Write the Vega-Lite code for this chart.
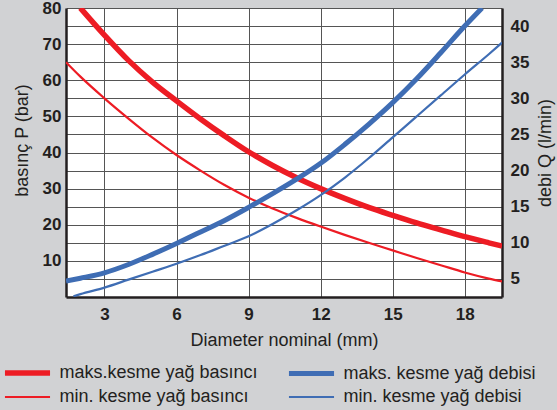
{
  "$schema": "https://vega.github.io/schema/vega-lite/v6.json",
  "width": 436,
  "height": 289,
  "autosize": {"type": "none"},
  "padding": {"left": 66, "top": 8, "right": 55, "bottom": 113},
  "background": "#d1d2d4",
  "config": {
    "view": {"fill": "white", "stroke": null},
    "font": "Liberation Sans",
    "axis": {"labelColor": "#231f20", "titleColor": "#231f20", "domainColor": "#231f20", "domainWidth": 2.5, "gridColor": "#555555", "gridWidth": 1, "gridOpacity": 1, "ticks": false, "labelFontSize": 17, "labelFontWeight": "bold", "titleFontSize": 18, "titleFontWeight": "normal"}
  },
  "data": {
    "values": [
      {"s": "maks.kesme yağ basıncı", "d": 2.0, "v": 80},
      {"s": "maks.kesme yağ basıncı", "d": 3, "v": 72.5},
      {"s": "maks.kesme yağ basıncı", "d": 4, "v": 65.5},
      {"s": "maks.kesme yağ basıncı", "d": 5, "v": 59.5},
      {"s": "maks.kesme yağ basıncı", "d": 6, "v": 54.3},
      {"s": "maks.kesme yağ basıncı", "d": 7, "v": 49.3},
      {"s": "maks.kesme yağ basıncı", "d": 8, "v": 44.6},
      {"s": "maks.kesme yağ basıncı", "d": 9, "v": 40.2},
      {"s": "maks.kesme yağ basıncı", "d": 10, "v": 36.4},
      {"s": "maks.kesme yağ basıncı", "d": 11, "v": 33.0},
      {"s": "maks.kesme yağ basıncı", "d": 12, "v": 30.0},
      {"s": "maks.kesme yağ basıncı", "d": 13, "v": 27.3},
      {"s": "maks.kesme yağ basıncı", "d": 14, "v": 24.8},
      {"s": "maks.kesme yağ basıncı", "d": 15, "v": 22.6},
      {"s": "maks.kesme yağ basıncı", "d": 16, "v": 20.5},
      {"s": "maks.kesme yağ basıncı", "d": 17, "v": 18.6},
      {"s": "maks.kesme yağ basıncı", "d": 18, "v": 16.7},
      {"s": "maks.kesme yağ basıncı", "d": 19, "v": 15.0},
      {"s": "maks.kesme yağ basıncı", "d": 19.55, "v": 14.1},
      {"s": "min. kesme yağ basıncı", "d": 1.4, "v": 65},
      {"s": "min. kesme yağ basıncı", "d": 2, "v": 61},
      {"s": "min. kesme yağ basıncı", "d": 3, "v": 55},
      {"s": "min. kesme yağ basıncı", "d": 4, "v": 49.4},
      {"s": "min. kesme yağ basıncı", "d": 5, "v": 44.1},
      {"s": "min. kesme yağ basıncı", "d": 6, "v": 39.3},
      {"s": "min. kesme yağ basıncı", "d": 7, "v": 35.0},
      {"s": "min. kesme yağ basıncı", "d": 8, "v": 31.0},
      {"s": "min. kesme yağ basıncı", "d": 9, "v": 27.5},
      {"s": "min. kesme yağ basıncı", "d": 10, "v": 24.5},
      {"s": "min. kesme yağ basıncı", "d": 11, "v": 21.9},
      {"s": "min. kesme yağ basıncı", "d": 12, "v": 19.5},
      {"s": "min. kesme yağ basıncı", "d": 13, "v": 17.2},
      {"s": "min. kesme yağ basıncı", "d": 14, "v": 15.0},
      {"s": "min. kesme yağ basıncı", "d": 15, "v": 12.9},
      {"s": "min. kesme yağ basıncı", "d": 16, "v": 10.8},
      {"s": "min. kesme yağ basıncı", "d": 17, "v": 8.8},
      {"s": "min. kesme yağ basıncı", "d": 18, "v": 6.8},
      {"s": "min. kesme yağ basıncı", "d": 19, "v": 5.1},
      {"s": "min. kesme yağ basıncı", "d": 19.55, "v": 4.3},
      {"s": "maks. kesme yağ debisi", "d": 1.4, "v": 4.7},
      {"s": "maks. kesme yağ debisi", "d": 2, "v": 5.1},
      {"s": "maks. kesme yağ debisi", "d": 3, "v": 5.85},
      {"s": "maks. kesme yağ debisi", "d": 4, "v": 7.0},
      {"s": "maks. kesme yağ debisi", "d": 5, "v": 8.4},
      {"s": "maks. kesme yağ debisi", "d": 6, "v": 9.9},
      {"s": "maks. kesme yağ debisi", "d": 7, "v": 11.5},
      {"s": "maks. kesme yağ debisi", "d": 8, "v": 13.1},
      {"s": "maks. kesme yağ debisi", "d": 9, "v": 14.9},
      {"s": "maks. kesme yağ debisi", "d": 10, "v": 16.8},
      {"s": "maks. kesme yağ debisi", "d": 11, "v": 18.8},
      {"s": "maks. kesme yağ debisi", "d": 12, "v": 21.0},
      {"s": "maks. kesme yağ debisi", "d": 13, "v": 23.6},
      {"s": "maks. kesme yağ debisi", "d": 14, "v": 26.4},
      {"s": "maks. kesme yağ debisi", "d": 15, "v": 29.4},
      {"s": "maks. kesme yağ debisi", "d": 16, "v": 32.7},
      {"s": "maks. kesme yağ debisi", "d": 17, "v": 36.3},
      {"s": "maks. kesme yağ debisi", "d": 18, "v": 40.0},
      {"s": "maks. kesme yağ debisi", "d": 18.72, "v": 42.5},
      {"s": "min. kesme yağ debisi", "d": 1.71, "v": 2.6},
      {"s": "min. kesme yağ debisi", "d": 2, "v": 2.9},
      {"s": "min. kesme yağ debisi", "d": 3, "v": 3.8},
      {"s": "min. kesme yağ debisi", "d": 4, "v": 4.9},
      {"s": "min. kesme yağ debisi", "d": 5, "v": 6.0},
      {"s": "min. kesme yağ debisi", "d": 6, "v": 7.1},
      {"s": "min. kesme yağ debisi", "d": 7, "v": 8.3},
      {"s": "min. kesme yağ debisi", "d": 8, "v": 9.6},
      {"s": "min. kesme yağ debisi", "d": 9, "v": 10.9},
      {"s": "min. kesme yağ debisi", "d": 10, "v": 12.6},
      {"s": "min. kesme yağ debisi", "d": 11, "v": 14.5},
      {"s": "min. kesme yağ debisi", "d": 12, "v": 16.6},
      {"s": "min. kesme yağ debisi", "d": 13, "v": 19.0},
      {"s": "min. kesme yağ debisi", "d": 14, "v": 21.7},
      {"s": "min. kesme yağ debisi", "d": 15, "v": 24.6},
      {"s": "min. kesme yağ debisi", "d": 16, "v": 27.5},
      {"s": "min. kesme yağ debisi", "d": 17, "v": 30.4},
      {"s": "min. kesme yağ debisi", "d": 18, "v": 33.3},
      {"s": "min. kesme yağ debisi", "d": 19, "v": 36.1},
      {"s": "min. kesme yağ debisi", "d": 19.55, "v": 37.7}
    ]
  },
  "encoding": {
    "x": {
      "field": "d", "type": "quantitative",
      "scale": {"domain": [1.4, 19.55], "nice": false, "zero": false},
      "axis": {"values": [3, 6, 9, 12, 15, 18], "grid": true, "labelPadding": 9, "title": "Diameter nominal (mm)", "titleBaseline": "alphabetic", "titleY": 48}
    },
    "color": {
      "field": "s", "type": "nominal",
      "scale": {"type": "ordinal", "domain": ["maks.kesme yağ basıncı", "min. kesme yağ basıncı", "maks. kesme yağ debisi", "min. kesme yağ debisi"], "range": ["#ed1c24", "#ed1c24", "#3f6db4", "#3f6db4"]},
      "legend": {"orient": "none", "legendX": -61, "legendY": 356, "title": null, "columns": 2, "columnPadding": 20, "rowPadding": 4, "padding": 0, "symbolType": "M-4,0H4", "symbolSize": 127, "symbolOffset": 13.5, "labelOffset": 23, "labelFontSize": 18, "labelFont": "Liberation Sans", "labelColor": "#231f20", "labelLimit": 400}
    },
    "strokeWidth": {
      "field": "s", "type": "nominal",
      "scale": {"type": "ordinal", "domain": ["maks.kesme yağ basıncı", "min. kesme yağ basıncı", "maks. kesme yağ debisi", "min. kesme yağ debisi"], "range": [5.5, 2.2, 5, 2.2]},
      "legend": {"orient": "none", "legendX": -61, "legendY": 356, "title": null, "columns": 2, "columnPadding": 20, "rowPadding": 4, "padding": 0, "symbolType": "M-4,0H4", "symbolSize": 127, "symbolOffset": 13.5, "labelOffset": 23, "labelFontSize": 18, "labelFont": "Liberation Sans", "labelColor": "#231f20", "labelLimit": 400}
    }
  },
  "layer": [
    {
      "transform": [{"filter": "indexof(datum.s, 'basınc') >= 0"}],
      "mark": {"type": "line", "interpolate": "monotone", "clip": true},
      "encoding": {
        "y": {
          "field": "v", "type": "quantitative",
          "scale": {"domain": [0, 80], "nice": false},
          "axis": {"values": [5, 10, 15, 20, 25, 30, 35, 40, 45, 50, 55, 60, 65, 70, 75, 80], "labelExpr": "datum.value % 10 == 0 ? datum.label : ''", "grid": true, "labelPadding": 5, "title": "basınç P (bar)", "titleX": -44, "titleY": 132, "titleAlign": "center", "titleBaseline": "middle", "titleAngle": -90}
        }
      }
    },
    {
      "transform": [{"filter": "indexof(datum.s, 'debisi') >= 0"}],
      "mark": {"type": "line", "interpolate": "monotone", "clip": true},
      "encoding": {
        "y": {
          "field": "v", "type": "quantitative",
          "scale": {"domain": [2.5, 42.5], "nice": false, "zero": false},
          "axis": {"orient": "right", "values": [5, 10, 15, 20, 25, 30, 35, 40], "grid": false, "labelPadding": 8, "title": "debi Q (l/min)", "titleX": 43, "titleY": 144.5, "titleAlign": "center", "titleBaseline": "middle", "titleAngle": -90}
        }
      }
    }
  ],
  "resolve": {"scale": {"y": "independent"}}
}
